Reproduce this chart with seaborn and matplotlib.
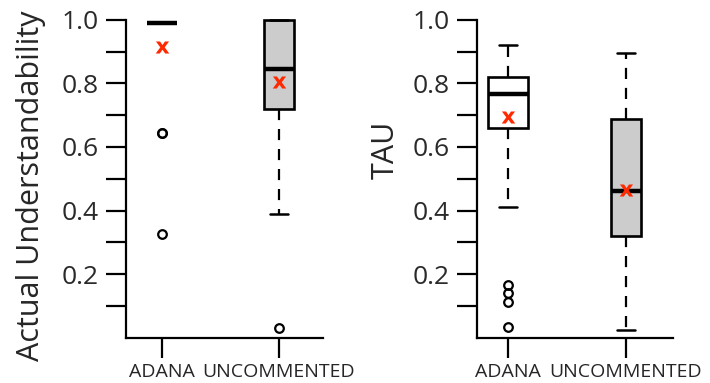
import numpy as np
import pandas as pd
import matplotlib
matplotlib.use("Agg")
from matplotlib import pyplot as plt
import seaborn as sns

groups = ["ADANA", "UNCOMMENTED"]

# Actual Understandability: box stats
au_low = [0.99, 0.39]
au_q1 = [0.99, 0.72]
au_med = [0.99, 0.845]
au_q3 = [0.99, 1.0]
au_high = [0.99, 1.0]
au_mean = [0.915, 0.805]
au_out = [[0.645, 0.645, 0.325], [0.03]]
au_width = [0.256, 0.256]

# TAU
tau_low = [0.41, 0.025]
tau_q1 = [0.66, 0.32]
tau_med = [0.765, 0.46]
tau_q3 = [0.82, 0.687]
tau_high = [0.92, 0.895]
tau_mean = [0.695, 0.463]
tau_out = [[0.165, 0.142, 0.113, 0.035], []]
tau_width = [0.338, 0.254]

fills = ["white", "#cccccc"]


def panel(ax, low, q1, med, q3, high, mean, out, widths, ylabel, xlim, labpos):
    stats = []
    for i, g in enumerate(groups):
        stats.append(dict(label=g, whislo=low[i], q1=q1[i], med=med[i],
                          q3=q3[i], whishi=high[i], fliers=out[i]))
    for i, st in enumerate(stats):
        same = st["q1"] == st["q3"]
        ax.bxp([st], positions=[i + 1], widths=widths[i], patch_artist=True,
               showfliers=True, manage_ticks=False,
               showbox=not same, showcaps=not same,
               boxprops=dict(facecolor=fills[i], edgecolor="black", linewidth=1.9),
               medianprops=dict(color="black", linewidth=3.2, solid_capstyle="butt"),
               whiskerprops=dict(color="black", linewidth=1.6, linestyle=(0, (5, 4))),
               capprops=dict(color="black", linewidth=1.8),
               capwidths=0.155,
               flierprops=dict(marker="o", markerfacecolor="none",
                               markeredgecolor="black", markersize=6.2,
                               markeredgewidth=1.6))
    mdf = pd.DataFrame({"pos": [1, 2], "mean": mean})
    sns.scatterplot(data=mdf, x="pos", y="mean", ax=ax, marker=r"$\mathbf{x}$",
                    color="#ff2a00", s=95, linewidth=0, zorder=5)
    for art in ax.get_children():
        try:
            art.set_clip_on(False)
        except Exception:
            pass
    ax.set_xlim(*xlim)
    ax.set_ylim(0, 1.03)
    ax.set_xticks([1, 2])
    ax.set_xticklabels(groups, fontsize=14)
    ax.set_yticks(np.arange(0.1, 1.01, 0.1))
    ax.set_yticklabels(["", "0.2", "", "0.4", "", "0.6", "", "0.8", "", "1.0"],
                       fontsize=19, color="#2a2a2a")
    ax.set_xlabel("")
    ax.set_ylabel(ylabel, fontsize=22, va="center")
    ax.yaxis.set_label_coords(*labpos)
    for s in ["top", "right"]:
        ax.spines[s].set_visible(False)
    ax.spines["left"].set_bounds(0, 1.0)
    for s in ["left", "bottom"]:
        ax.spines[s].set_linewidth(1.6)
        ax.spines[s].set_color("black")
    ax.tick_params(axis="both", length=14.5, width=1.6, color="black", direction="out")
    ax.tick_params(axis="y", pad=5)
    ax.tick_params(axis="x", pad=4)


sns.set_style("ticks")
plt.rcParams["font.family"] = ["Open Sans", "DejaVu Sans"]

fig = plt.figure(figsize=(7.1, 3.83), dpi=100)
ax1 = fig.add_axes([0.1775, 0.1183, 0.2775, 0.855])
ax2 = fig.add_axes([0.6714, 0.1183, 0.2765, 0.855])

panel(ax1, au_low, au_q1, au_med, au_q3, au_high, au_mean, au_out, au_width,
      "Actual Understandability", (0.692, 2.376), (-0.482, 0.463))
panel(ax2, tau_low, tau_q1, tau_med, tau_q3, tau_high, tau_mean, tau_out, tau_width,
      "TAU", (0.738, 2.397), (-0.465, 0.573))

fig.savefig("out.png", dpi=100)
